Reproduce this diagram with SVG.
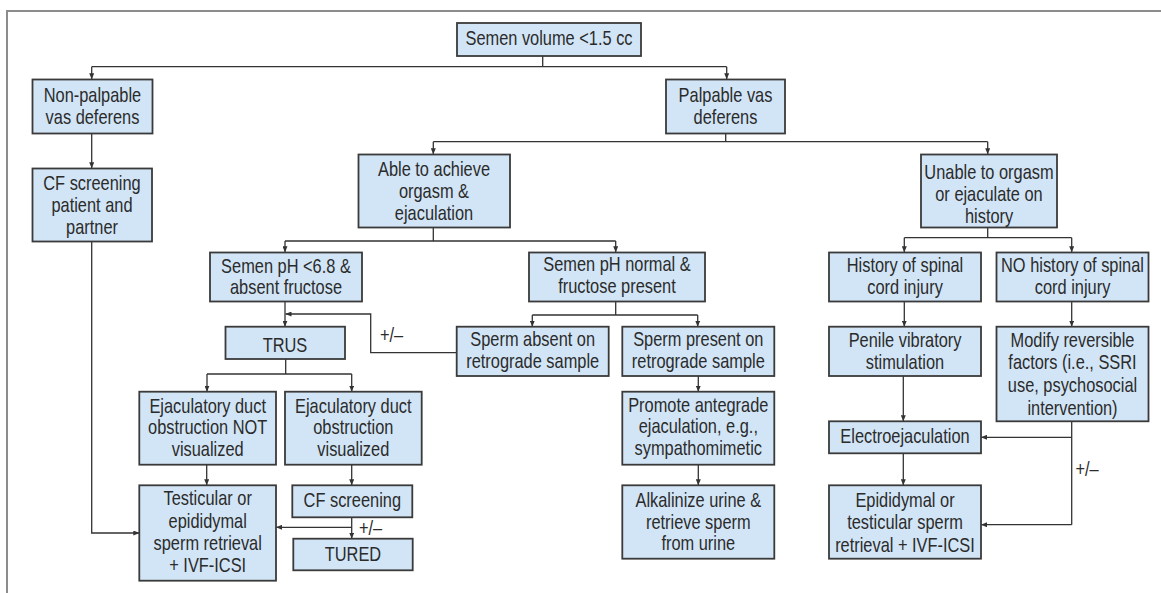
<svg xmlns="http://www.w3.org/2000/svg" width="1161" height="593" viewBox="0 0 1161 593">
<style>
.box{fill:#d2e5f6;stroke:#3a3a3a;stroke-width:1.8}
.t{font-family:"Liberation Sans",Arial,sans-serif;font-size:20px;fill:#2b2b2b;text-anchor:middle;transform-box:fill-box;transform-origin:center;transform:scaleX(0.82)}
.c{fill:none;stroke:#333;stroke-width:1.3}
.a{marker-end:url(#ah)}
.frame{stroke:#8c8c8c;stroke-width:2;fill:none}
</style>
<defs>
<marker id="ah" markerUnits="userSpaceOnUse" markerWidth="6" markerHeight="5" refX="6" refY="2.5" orient="auto">
<path d="M0,0 L6,2.5 L0,5 z" fill="#333"/>
</marker>
</defs>
<path class="frame" d="M7,593 V11 H1161"/>
<g id="connectors">
<path class="c" d="M542.7,55.7 V66.7 M91.7,66.7 H726.7"/>
<path class="c a" d="M91.7,66.7 V79.3"/>
<path class="c a" d="M726.7,66.7 V79.3"/>
<path class="c a" d="M91.7,133.3 V168.3"/>
<path class="c" d="M725.7,133.3 V141.7 M433.3,141.7 H987.7"/>
<path class="c a" d="M433.3,141.7 V154.3"/>
<path class="c a" d="M987.7,141.7 V154.3"/>
<path class="c" d="M433.3,227.7 V241 M285,241 H615.7"/>
<path class="c a" d="M285,241 V252.3"/>
<path class="c a" d="M615.7,241 V252.3"/>
<path class="c" d="M987.7,227.7 V237.7 M904.3,237.7 H1071.7"/>
<path class="c a" d="M904.3,237.7 V252.3"/>
<path class="c a" d="M1071.7,237.7 V252.3"/>
<path class="c a" d="M285,301.7 V326.7"/>
<path class="c" d="M615.7,301.7 V315 M532.3,315 H697.7"/>
<path class="c a" d="M532.3,315 V326.7"/>
<path class="c a" d="M697.7,315 V326.7"/>
<path class="c a" d="M456.7,352.7 H370.7 V314 H285.5"/>
<path class="c" d="M285.7,359 V374 M207,374 H351.7"/>
<path class="c a" d="M207,374 V391.7"/>
<path class="c a" d="M351.7,374 V391.7"/>
<path class="c a" d="M698.3,376 V391.7"/>
<path class="c a" d="M698.3,464.7 V485.3"/>
<path class="c a" d="M904.3,301.7 V326.7"/>
<path class="c a" d="M1071.7,301.7 V326.7"/>
<path class="c a" d="M903.3,376 V421.3"/>
<path class="c a" d="M903.3,453.3 V485.3"/>
<path class="c" d="M1071.7,421.3 V524.7"/>
<path class="c a" d="M1071.7,437.3 H981"/>
<path class="c a" d="M1071.7,524.7 H981"/>
<path class="c a" d="M91.7,241.7 V533 H139.3"/>
<path class="c a" d="M206.7,464.7 V485.3"/>
<path class="c a" d="M351.7,464.7 V485.3"/>
<path class="c a" d="M351.7,517.3 V538.7"/>
<path class="c a" d="M351.7,527.3 H276"/>
<text class="t" x="391.5" y="342">+/–</text>
<text class="t" x="370.5" y="535">+/–</text>
<text class="t" x="1087" y="476.5">+/–</text>
</g>
<g id="n-semen"><rect class="box" x="457" y="23" width="184" height="33"/><text class="t" x="549" y="45">Semen volume &lt;1.5 cc</text></g>
<g id="n-nonpalp"><rect class="box" x="32.5" y="79.5" width="120" height="54"/><text class="t" x="92.5" y="102.5">Non-palpable</text><text class="t" x="92.5" y="124">vas deferens</text></g>
<g id="n-palp"><rect class="box" x="666" y="79.5" width="119" height="54"/><text class="t" x="725.5" y="102">Palpable vas</text><text class="t" x="725.5" y="123.7">deferens</text></g>
<g id="n-cf"><rect class="box" x="32.5" y="168.5" width="119.5" height="73"/><text class="t" x="92" y="190">CF screening</text><text class="t" x="92" y="212">patient and</text><text class="t" x="92" y="234">partner</text></g>
<g id="n-able"><rect class="box" x="358.5" y="154.5" width="151.5" height="73"/><text class="t" x="434" y="176">Able to achieve</text><text class="t" x="434" y="198">orgasm &amp;</text><text class="t" x="434" y="220">ejaculation</text></g>
<g id="n-unable"><rect class="box" x="921" y="154.5" width="136" height="73"/><text class="t" x="989" y="179">Unable to orgasm</text><text class="t" x="989" y="201">or ejaculate on</text><text class="t" x="989" y="223">history</text></g>
<g id="n-phlow"><rect class="box" x="210" y="252.5" width="152" height="49"/><text class="t" x="286" y="272.7">Semen pH &lt;6.8 &amp;</text><text class="t" x="286" y="294.3">absent fructose</text></g>
<g id="n-phnorm"><rect class="box" x="529" y="252.5" width="176" height="49"/><text class="t" x="617" y="271">Semen pH normal &amp;</text><text class="t" x="617" y="293">fructose present</text></g>
<g id="n-hist"><rect class="box" x="829" y="252.5" width="152" height="49"/><text class="t" x="905" y="272">History of spinal</text><text class="t" x="905" y="294.3">cord injury</text></g>
<g id="n-nohist"><rect class="box" x="996.5" y="252.5" width="152" height="49"/><text class="t" x="1072.5" y="272">NO history of spinal</text><text class="t" x="1072.5" y="294.3">cord injury</text></g>
<g id="n-trus"><rect class="box" x="225.5" y="326.7" width="119.5" height="32.3"/><text class="t" x="285" y="352.5">TRUS</text></g>
<g id="n-spabs"><rect class="box" x="456.7" y="326.7" width="152" height="49.3"/><text class="t" x="532.7" y="346.3">Sperm absent on</text><text class="t" x="532.7" y="368">retrograde sample</text></g>
<g id="n-sppres"><rect class="box" x="622.3" y="326.7" width="152" height="49.3"/><text class="t" x="698.3" y="346.3">Sperm present on</text><text class="t" x="698.3" y="368">retrograde sample</text></g>
<g id="n-penile"><rect class="box" x="829" y="326.7" width="152" height="49.3"/><text class="t" x="905" y="347">Penile vibratory</text><text class="t" x="905" y="369.3">stimulation</text></g>
<g id="n-modify"><rect class="box" x="996.5" y="326.7" width="152" height="94.6"/><text class="t" x="1072.5" y="347">Modify reversible</text><text class="t" x="1072.5" y="369.3">factors (i.e., SSRI</text><text class="t" x="1072.5" y="392">use, psychosocial</text><text class="t" x="1072.5" y="415">intervention)</text></g>
<g id="n-ejacnot"><rect class="box" x="139.3" y="391.7" width="136.7" height="73"/><text class="t" x="207.7" y="413">Ejaculatory duct</text><text class="t" x="207.7" y="434">obstruction NOT</text><text class="t" x="207.7" y="455.7">visualized</text></g>
<g id="n-ejacvis"><rect class="box" x="285" y="391.7" width="136.7" height="73"/><text class="t" x="353.3" y="413">Ejaculatory duct</text><text class="t" x="353.3" y="434">obstruction</text><text class="t" x="353.3" y="455.7">visualized</text></g>
<g id="n-promote"><rect class="box" x="622.3" y="391.7" width="152" height="73"/><text class="t" x="698.3" y="411.7">Promote antegrade</text><text class="t" x="698.3" y="433.3">ejaculation, e.g.,</text><text class="t" x="698.3" y="455">sympathomimetic</text></g>
<g id="n-electro"><rect class="box" x="829" y="421.3" width="152" height="32"/><text class="t" x="905" y="442.7">Electroejaculation</text></g>
<g id="n-testic"><rect class="box" x="139.3" y="485.3" width="136.7" height="95.4"/><text class="t" x="207.7" y="505">Testicular or</text><text class="t" x="207.7" y="527.7">epididymal</text><text class="t" x="207.7" y="550">sperm retrieval</text><text class="t" x="207.7" y="571.7">+ IVF-ICSI</text></g>
<g id="n-cf2"><rect class="box" x="292.3" y="485.3" width="120" height="32"/><text class="t" x="352.3" y="507.3">CF screening</text></g>
<g id="n-tured"><rect class="box" x="293.3" y="538.7" width="119.4" height="31.6"/><text class="t" x="353" y="560.7">TURED</text></g>
<g id="n-alkal"><rect class="box" x="622.3" y="485.3" width="152" height="73.4"/><text class="t" x="698.3" y="507.3">Alkalinize urine &amp;</text><text class="t" x="698.3" y="529">retrieve sperm</text><text class="t" x="698.3" y="550">from urine</text></g>
<g id="n-epid"><rect class="box" x="829" y="485.3" width="152" height="73.4"/><text class="t" x="905" y="507.3">Epididymal or</text><text class="t" x="905" y="529.3">testicular sperm</text><text class="t" x="905" y="551.7">retrieval + IVF-ICSI</text></g>
</svg>
